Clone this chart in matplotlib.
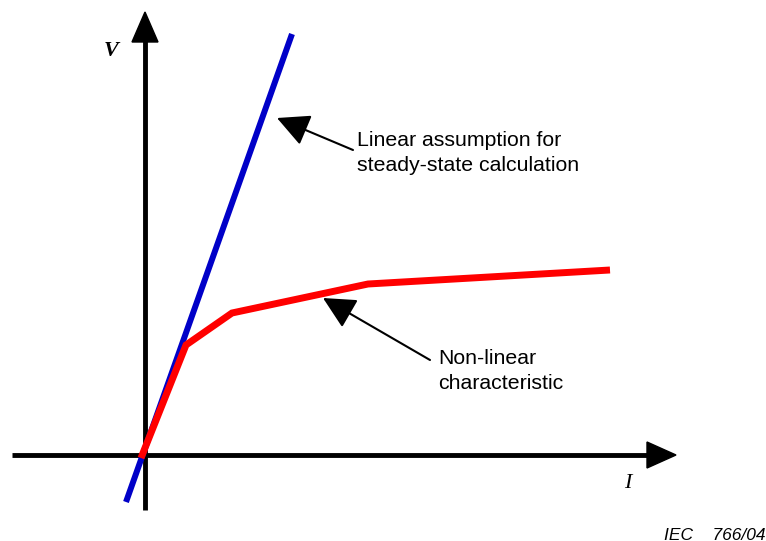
import matplotlib
matplotlib.use("Agg")
import matplotlib.pyplot as plt

# Schematic data (units relative to origin)
linear_x = [-19, 147]
linear_y = [-47, 421]
nonlinear_x = [-4, 41, 87, 223, 465]
nonlinear_y = [-3, 110, 142, 171, 185]

label_linear = "Linear assumption for\nsteady-state calculation"
label_nonlinear = "Non-linear\ncharacteristic"

fig = plt.figure(figsize=(7.66, 5.41), dpi=100)
ax = fig.add_axes([0, 0, 1, 1])
ax.set_xlim(-145, 621)
ax.set_ylim(-86, 455)
ax.axis("off")

# Axes with arrowheads
ax.plot([-133, 505], [0, 0], color="black", lw=3.5, solid_capstyle="butt", zorder=1)
ax.fill([502, 531, 502], [13, 0, -13], color="black", zorder=1)
ax.plot([0, 0], [-55, 415], color="black", lw=3.5, solid_capstyle="butt", zorder=1)
ax.fill([-13, 0, 13], [413, 443, 413], color="black", zorder=1)

ax.plot(linear_x, linear_y, color="#0000c8", lw=4.3, solid_capstyle="butt", zorder=2)
ax.plot(nonlinear_x, nonlinear_y, color="#ff0000", lw=5, solid_capstyle="butt",
        solid_joinstyle="miter", zorder=3)

arrow = dict(arrowstyle="-|>,head_length=0.5,head_width=0.25", color="black", lw=1.5,
             mutation_scale=40, shrinkA=0, shrinkB=0)
ax.annotate("", xy=(132, 337), xytext=(208, 305), arrowprops=arrow)
ax.annotate("", xy=(178, 157), xytext=(285, 95), arrowprops=arrow)

ax.text(212, 302, label_linear, fontsize=15.3, family="Liberation Sans",
        va="center", ha="left", linespacing=1.4)
ax.text(293, 84, label_nonlinear, fontsize=15.3, family="Liberation Sans",
        va="center", ha="left", linespacing=1.4)

ax.text(-34, 404, "V", fontsize=16, family="Liberation Serif", style="italic",
        fontweight="bold", ha="center", va="center")
ax.text(483, -29, "I", fontsize=16, family="Liberation Serif", style="italic",
        ha="center", va="center")
ax.text(620, -80, "IEC    766/04", fontsize=12.5, family="Liberation Sans",
        style="italic", ha="right", va="center")

fig.savefig("out.png", dpi=100)
